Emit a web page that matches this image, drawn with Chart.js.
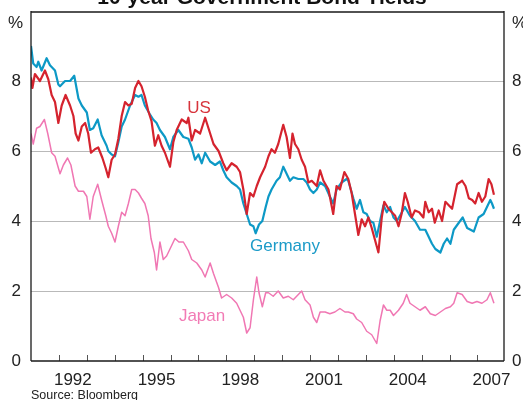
<!DOCTYPE html>
<html>
<head>
<meta charset="utf-8">
<script src="https://cdn.jsdelivr.net/npm/chart.js@4.4.1/dist/chart.umd.min.js"></script>
<style>
html,body{margin:0;padding:0;background:#fff;overflow:hidden;}
canvas{display:block;}
</style>
</head>
<body>
<canvas id="c" width="523" height="400"></canvas>
<script>
// ---- Data (decimal year, % yield) ----
const usT = [1991.00,1991.05,1991.14,1991.32,1991.50,1991.62,1991.74,1991.86,1991.98,1992.10,1992.24,1992.40,1992.52,1992.60,1992.70,1992.82,1992.94,1993.05,1993.15,1993.29,1993.41,1993.56,1993.68,1993.77,
  1993.89,1994.01,1994.13,1994.25,1994.37,1994.49,1994.61,1994.73,1994.85,1994.96,1995.08,1995.20,1995.32,1995.44,1995.56,1995.68,1995.80,1995.98,1996.10,1996.22,1996.40,1996.58,
  1996.64,1996.76,1996.88,1997.06,1997.24,1997.36,1997.54,1997.72,1997.89,1998.01,1998.19,1998.37,1998.49,1998.61,1998.73,1998.85,1998.97,1999.09,1999.21,1999.39,
  1999.51,1999.62,1999.74,1999.86,2000.04,2000.16,2000.28,2000.37,2000.46,2000.58,2000.70,2000.82,2000.94,2001.06,2001.24,2001.36,2001.48,2001.66,2001.83,2001.95,2002.07,2002.23,
  2002.37,2002.49,2002.61,2002.73,2002.85,2002.97,2003.09,2003.21,2003.33,2003.45,2003.57,2003.66,2003.81,2003.93,2004.05,2004.17,2004.28,2004.40,2004.50,2004.64,2004.76,2004.91,2005.06,
  2005.13,2005.25,2005.37,2005.47,2005.61,2005.73,2005.85,2005.97,2006.09,2006.27,2006.45,2006.57,2006.69,2006.81,2006.92,2007.04,2007.16,2007.28,2007.40,2007.50,2007.59];
const usV = [8.1,7.8,8.2,8.0,8.3,8.05,7.6,7.4,6.8,7.3,7.6,7.3,7.0,6.5,6.3,6.7,6.8,6.5,5.95,6.05,6.1,5.8,5.5,5.25,
  5.75,5.9,6.35,7.0,7.4,7.3,7.35,7.8,8.0,7.85,7.55,7.15,6.85,6.15,6.45,6.15,5.95,5.55,6.25,6.6,6.9,6.8,
  6.95,6.3,6.6,6.5,6.95,6.65,6.2,6.0,5.65,5.45,5.65,5.55,5.4,4.9,4.2,4.8,4.7,5.0,5.25,5.55,
  5.85,6.05,5.95,6.2,6.75,6.4,5.8,6.5,6.2,6.05,5.75,5.55,5.1,5.15,5.0,5.45,5.15,4.9,4.2,5.0,4.9,5.4,
  5.2,4.8,4.2,3.6,4.05,3.85,4.1,3.8,3.45,3.1,4.1,4.55,4.35,4.25,4.15,3.85,4.2,4.8,4.55,4.1,4.3,4.25,4.1,
  4.55,4.25,4.35,3.95,4.3,4.0,4.55,4.45,4.35,5.05,5.15,5.0,4.65,4.6,4.5,4.8,4.55,4.7,5.2,5.05,4.75];

const deT = [1991.00,1991.08,1991.20,1991.26,1991.38,1991.56,1991.68,1991.86,1991.98,1992.04,1992.22,1992.40,1992.55,1992.70,1992.82,1993.00,1993.11,1993.23,1993.39,1993.53,1993.71,
  1993.77,1993.89,1994.01,1994.13,1994.25,1994.37,1994.55,1994.73,1994.85,1994.96,1995.08,1995.26,1995.38,1995.50,1995.62,1995.80,1995.98,1996.10,1996.28,1996.46,
  1996.64,1996.76,1996.88,1997.00,1997.12,1997.24,1997.42,1997.60,1997.77,1997.89,1998.01,1998.19,1998.37,1998.49,1998.61,1998.73,1998.85,1998.97,1999.05,1999.17,1999.29,1999.41,
  1999.51,1999.62,1999.80,1999.92,2000.04,2000.16,2000.28,2000.40,2000.58,2000.76,2000.88,2001.00,2001.12,2001.24,2001.36,2001.54,2001.71,2001.83,2001.95,2002.13,2002.31,
  2002.37,2002.55,2002.67,2002.79,2002.91,2003.03,2003.15,2003.27,2003.39,2003.51,2003.63,2003.75,2003.87,2003.99,2004.11,2004.22,2004.40,2004.58,2004.76,2004.94,
  2005.13,2005.25,2005.37,2005.49,2005.67,2005.79,2005.91,2006.03,2006.15,2006.33,2006.47,2006.63,2006.75,2006.87,2007.04,2007.22,2007.34,2007.46,2007.52,2007.59];
const deV = [9.0,8.5,8.4,8.55,8.3,8.65,8.45,8.3,7.9,7.85,8.0,8.0,8.15,7.5,7.3,7.1,6.6,6.65,6.9,6.45,6.15,
  6.0,5.9,5.85,6.25,6.7,6.9,7.3,7.6,7.55,7.6,7.3,7.05,6.9,6.8,6.6,6.4,6.05,6.4,6.6,6.4,
  6.35,6.1,5.75,5.9,5.65,5.95,5.7,5.6,5.7,5.45,5.25,5.1,5.0,4.9,4.5,4.2,3.9,3.85,3.65,3.9,4.0,4.4,
  4.7,4.9,5.15,5.25,5.55,5.35,5.15,5.25,5.2,5.2,5.1,4.9,4.8,4.9,5.1,5.0,4.7,4.5,4.9,5.1,5.2,
  5.15,4.65,4.35,4.6,4.25,4.2,4.0,3.95,3.55,4.0,4.45,4.25,4.4,4.1,4.0,4.15,4.4,4.15,4.0,3.75,
  3.75,3.55,3.35,3.2,3.1,3.35,3.5,3.35,3.75,3.95,4.1,3.8,3.75,3.7,4.1,4.2,4.4,4.6,4.5,4.35];

const jpT = [1991.00,1991.08,1991.20,1991.32,1991.48,1991.60,1991.74,1991.86,1992.04,1992.16,1992.31,1992.43,1992.58,1992.70,1992.88,1993.00,1993.11,1993.23,1993.39,1993.53,1993.68,
  1993.77,1993.89,1994.01,1994.13,1994.25,1994.37,1994.49,1994.61,1994.73,1994.85,1994.96,1995.08,1995.20,1995.30,1995.42,1995.50,1995.62,1995.74,1995.86,1995.98,1996.16,1996.30,1996.46,
  1996.64,1996.76,1996.94,1997.12,1997.24,1997.42,1997.54,1997.72,1997.83,1998.01,1998.19,1998.37,1998.49,1998.61,1998.73,1998.85,1998.97,1999.09,1999.17,1999.29,1999.41,
  1999.51,1999.68,1999.86,2000.04,2000.22,2000.40,2000.58,2000.70,2000.82,2001.00,2001.12,2001.24,2001.36,2001.54,2001.71,2001.89,2002.07,2002.25,
  2002.37,2002.55,2002.67,2002.85,2003.03,2003.21,2003.39,2003.51,2003.63,2003.75,2003.87,2003.99,2004.17,2004.34,2004.46,2004.58,2004.76,2004.94,
  2005.13,2005.31,2005.49,2005.67,2005.85,2006.03,2006.15,2006.27,2006.45,2006.63,2006.81,2006.98,2007.16,2007.34,2007.46,2007.59];
const jpV = [6.5,6.2,6.65,6.7,6.9,6.5,5.95,5.85,5.35,5.6,5.8,5.6,5.0,4.85,4.85,4.7,4.05,4.7,5.05,4.6,4.15,
  3.85,3.65,3.4,3.85,4.25,4.15,4.5,4.9,4.9,4.8,4.65,4.5,4.15,3.5,3.1,2.6,3.4,2.9,3.0,3.2,3.5,3.4,3.4,
  3.15,2.9,2.8,2.6,2.4,2.8,2.5,2.1,1.8,1.9,1.8,1.65,1.45,1.25,0.8,0.95,1.75,2.4,1.95,1.55,1.95,
  1.95,1.85,2.0,1.8,1.85,1.75,1.9,2.0,1.75,1.6,1.25,1.1,1.4,1.4,1.35,1.4,1.5,1.4,
  1.4,1.35,1.2,1.1,0.85,0.75,0.5,1.15,1.6,1.45,1.45,1.3,1.45,1.65,1.9,1.65,1.55,1.45,
  1.55,1.35,1.3,1.4,1.5,1.55,1.65,1.95,1.9,1.7,1.65,1.7,1.65,1.75,1.95,1.65];

const yTickValues = [0, 2, 4, 6, 8];
const yearTickLabels = [1992, 1995, 1998, 2001, 2004, 2007];
const seriesNames = ['US', 'Germany', 'Japan'];

const US_C = '#d5232e', DE_C = '#0d99c6', JP_C = '#f077b3';

function pts(t, v) { return t.map((x, i) => ({ x: x, y: v[i] })); }

const FONT = '"Liberation Sans", Arial, sans-serif';

const decor = {
  id: 'decor',
  beforeDraw(chart) {
    const c = chart.ctx;
    c.save();
    c.fillStyle = '#fff';
    c.fillRect(0, 0, chart.width, chart.height);
    c.restore();
  },
  beforeDatasetsDraw(chart) {
    const c = chart.ctx, a = chart.chartArea, y = chart.scales.y;
    c.save();
    c.strokeStyle = '#b9b9b9';
    c.lineWidth = 1;
    [2, 4, 6, 8].forEach(v => {
      const py = Math.round(y.getPixelForValue(v)) + 0.5;
      c.beginPath(); c.moveTo(a.left, py); c.lineTo(a.right, py); c.stroke();
    });
    c.restore();
  },
  afterDatasetsDraw(chart) {
    const c = chart.ctx, a = chart.chartArea, x = chart.scales.x, y = chart.scales.y;
    c.save();
    c.strokeStyle = '#555';
    c.lineWidth = 1;
    for (let yr = 1992; yr <= 2007; yr++) {
      const px = Math.round(x.getPixelForValue(yr)) + 0.5;
      c.beginPath(); c.moveTo(px, a.bottom); c.lineTo(px, a.bottom - 6); c.stroke();
    }
    c.strokeStyle = '#1a1a1a';
    c.lineWidth = 1.3;
    c.beginPath();
    c.moveTo(a.left, a.top + 1); c.lineTo(a.right, a.top + 1);
    c.moveTo(a.left, a.top); c.lineTo(a.left, a.bottom);
    c.moveTo(a.right, a.top); c.lineTo(a.right, a.bottom);
    c.moveTo(a.left, a.bottom); c.lineTo(a.right, a.bottom);
    c.stroke();

    c.fillStyle = '#222';
    c.font = '17px ' + FONT;
    c.textBaseline = 'middle';
    yTickValues.forEach(v => {
      const py = y.getPixelForValue(v);
      c.textAlign = 'right'; c.fillText(String(v), a.left - 10, py);
      c.textAlign = 'left'; c.fillText(String(v), a.right + 8, py);
    });
    c.textAlign = 'right'; c.fillText('%', a.left - 8, 23);
    c.textAlign = 'left'; c.fillText('%', a.right + 8, 23);

    c.textAlign = 'center';
    c.textBaseline = 'alphabetic';
    yearTickLabels.forEach(yr => {
      c.fillText(String(yr), x.getPixelForValue(yr + 0.5), a.bottom + 24);
    });

    c.textAlign = 'left';
    c.fillStyle = '#d7343c';
    c.fillText(seriesNames[0], x.getPixelForValue(1996.6), y.getPixelForValue(7.1));
    c.fillStyle = '#1c9bc8';
    c.fillText(seriesNames[1], x.getPixelForValue(1998.85), y.getPixelForValue(3.15));
    c.fillStyle = '#f27bb5';
    c.fillText(seriesNames[2], x.getPixelForValue(1996.3), y.getPixelForValue(1.15));

    c.fillStyle = '#111';
    c.font = 'bold 21px ' + FONT;
    c.textAlign = 'center';
    c.fillText('10-year Government Bond Yields', 262, 4);

    c.fillStyle = '#222';
    c.font = '12.5px ' + FONT;
    c.textAlign = 'left';
    c.fillText('Source: Bloomberg', 31, 399);
    c.restore();
  }
};

new Chart(document.getElementById('c'), {
  type: 'line',
  data: {
    datasets: [
      { label: seriesNames[0], data: pts(usT, usV), borderColor: US_C, borderWidth: 2.2, order: 0 },
      { label: seriesNames[1], data: pts(deT, deV), borderColor: DE_C, borderWidth: 2.2, order: 1 },
      { label: seriesNames[2], data: pts(jpT, jpV), borderColor: JP_C, borderWidth: 1.5, order: 2 }
    ]
  },
  options: {
    responsive: false,
    animation: false,
    devicePixelRatio: 1,
    layout: { padding: { left: 31, right: 19, top: 11, bottom: 39 } },
    elements: { point: { radius: 0 }, line: { tension: 0, fill: false, borderJoinStyle: 'round' } },
    plugins: { legend: { display: false }, tooltip: { enabled: false }, title: { display: false } },
    scales: {
      x: { type: 'linear', min: 1991, max: 2007.95, display: false },
      y: { type: 'linear', min: 0, max: 10, display: false }
    }
  },
  plugins: [decor]
});
</script>
</body>
</html>
